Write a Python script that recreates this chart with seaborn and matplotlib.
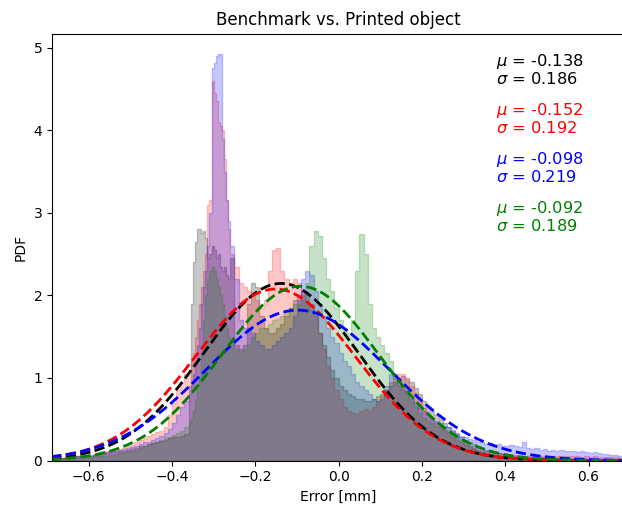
import numpy as np
import pandas as pd
import matplotlib
matplotlib.use("Agg")
import matplotlib.pyplot as plt
from matplotlib.colors import to_rgba
import seaborn as sns

# ---- bin edges (fine bins around the sharp peak) ----
edges_left = np.round(np.arange(-0.69, -0.36 + 1e-9, 0.01), 4)
edges_peak = np.round(np.arange(-0.36, -0.26 + 1e-9, 0.005), 4)
edges_right = np.round(np.arange(-0.26, 0.69 + 1e-9, 0.01), 4)
edges = np.unique(np.concatenate([edges_left, edges_peak, edges_right]))
centers = 0.5 * (edges[:-1] + edges[1:])

# ---- histogram heights (PDF) ----
# Benchmark (black)
black_left = [0.02, 0.02, 0.03, 0.03, 0.04, 0.04, 0.05, 0.05, 0.06, 0.06,
              0.07, 0.07, 0.08, 0.09, 0.10, 0.10, 0.11, 0.12, 0.13, 0.14,
              0.15, 0.17, 0.18, 0.20, 0.21, 0.22, 0.24, 0.25, 0.27, 0.28,
              0.29, 0.30, 0.32]
black_peak = [0.9, 1.9, 2.4, 2.65, 2.8, 2.8, 2.75, 2.78, 2.7, 2.45,
              2.5, 2.6, 2.55, 2.45, 2.5, 2.35, 2.3, 2.35, 2.25, 2.2]
black_right = [2.45, 1.4, 1.35, 1.4, 1.9, 2.15, 2.1, 1.75, 1.6, 1.55,
               1.55, 1.6, 1.65, 1.75, 1.85, 1.95, 2.0, 2.05, 2.0, 1.9,
               1.8, 1.55, 1.4, 1.25, 1.1, 1.0, 0.9, 0.85, 0.8, 0.78,
               0.75, 0.75, 0.72, 0.72, 0.75, 0.78, 0.8, 0.85, 0.9, 0.95,
               1.0, 1.02, 1.0, 0.95, 0.88, 0.8, 0.72, 0.65, 0.6, 0.55,
               0.5, 0.45, 0.4, 0.36, 0.32, 0.28, 0.25, 0.22, 0.2, 0.17,
               0.15, 0.13, 0.11, 0.1, 0.09, 0.08, 0.07, 0.06, 0.05, 0.05,
               0.04, 0.04, 0.04, 0.03, 0.03, 0.03, 0.03, 0.03, 0.02, 0.02,
               0.02, 0.02, 0.02, 0.02, 0.02, 0.02, 0.01, 0.01, 0.01, 0.01,
               0.01, 0.01, 0.01, 0.01, 0.01]

# Printed object 1 (red)
red_left = [0.02, 0.03, 0.03, 0.04, 0.04, 0.05, 0.05, 0.06, 0.07, 0.07,
            0.08, 0.09, 0.10, 0.11, 0.12, 0.13, 0.14, 0.15, 0.17, 0.19,
            0.22, 0.25, 0.27, 0.30, 0.32, 0.34, 0.36, 0.40, 0.55, 0.70,
            0.85, 0.95, 1.05]
red_peak = [1.1, 1.2, 1.3, 1.5, 1.7, 1.9, 2.1, 2.3, 2.5, 3.1,
            3.15, 4.6, 4.45, 4.35, 4.1, 4.05, 4.0, 3.65, 3.15, 2.8]
red_right = [2.5, 2.35, 2.15, 2.1, 2.05, 2.0, 1.95, 1.85, 1.95, 2.3,
             2.55, 2.57, 2.3, 2.2, 2.15, 2.2, 2.15, 2.0, 1.9, 1.82,
             1.75, 1.55, 1.35, 1.15, 1.0, 0.85, 0.75, 0.65, 0.6, 0.57,
             0.56, 0.6, 0.62, 0.6, 0.65, 0.72, 0.78, 0.85, 0.95, 1.02,
             1.05, 1.05, 0.98, 0.9, 0.82, 0.72, 0.64, 0.56, 0.5, 0.45,
             0.4, 0.36, 0.32, 0.28, 0.25, 0.22, 0.19, 0.17, 0.15, 0.13,
             0.12, 0.11, 0.1, 0.09, 0.09, 0.08, 0.08, 0.07, 0.07, 0.07,
             0.06, 0.06, 0.06, 0.06, 0.06, 0.05, 0.05, 0.05, 0.05, 0.05,
             0.05, 0.05, 0.05, 0.05, 0.04, 0.05, 0.04, 0.05, 0.04, 0.04,
             0.04, 0.04, 0.04, 0.03, 0.03]

# Printed object 2 (blue)
blue_left = [0.02, 0.02, 0.03, 0.03, 0.04, 0.04, 0.05, 0.05, 0.06, 0.06,
             0.07, 0.08, 0.09, 0.10, 0.11, 0.12, 0.13, 0.14, 0.15, 0.16,
             0.18, 0.20, 0.22, 0.23, 0.25, 0.27, 0.30, 0.33, 0.38, 0.45,
             0.55, 0.65, 0.72]
blue_peak = [0.8, 0.9, 1.05, 1.2, 1.4, 1.6, 1.9, 2.1, 2.3, 2.6,
             3.0, 4.75, 4.82, 4.9, 4.92, 4.92, 3.9, 3.5, 3.15, 2.9]
blue_right = [2.6, 2.2, 1.7, 1.6, 1.6, 1.55, 1.45, 1.4, 1.35, 1.35,
              1.4, 1.45, 1.5, 1.55, 1.6, 1.75, 1.95, 2.2, 2.3, 2.25,
              2.05, 1.9, 1.75, 1.6, 1.5, 1.42, 1.3, 1.2, 1.15, 1.05,
              0.95, 0.9, 0.85, 0.8, 0.75, 0.72, 0.75, 0.9, 1.05, 1.0,
              0.92, 0.85, 0.8, 0.75, 0.7, 0.64, 0.6, 0.55, 0.52, 0.48,
              0.45, 0.42, 0.4, 0.37, 0.33, 0.3, 0.28, 0.26, 0.25, 0.23,
              0.22, 0.2, 0.21, 0.19, 0.2, 0.18, 0.17, 0.19, 0.17, 0.16,
              0.23, 0.15, 0.14, 0.15, 0.13, 0.14, 0.12, 0.13, 0.12, 0.13,
              0.12, 0.11, 0.12, 0.1, 0.11, 0.1, 0.09, 0.1, 0.09, 0.08,
              0.08, 0.07, 0.07, 0.06, 0.06]

# Printed object 3 (green)
green_left = [0.01, 0.01, 0.02, 0.02, 0.02, 0.03, 0.03, 0.03, 0.04, 0.04,
              0.05, 0.05, 0.06, 0.06, 0.07, 0.08, 0.09, 0.10, 0.11, 0.12,
              0.13, 0.15, 0.17, 0.19, 0.21, 0.23, 0.25, 0.27, 0.29, 0.31,
              0.33, 0.36, 0.40]
green_peak = [0.45, 0.5, 0.6, 0.75, 0.9, 1.0, 1.3, 1.7, 2.0, 2.2,
              2.3, 2.35, 2.3, 2.2, 2.1, 2.0, 1.9, 1.75, 1.6, 1.5]
green_right = [1.45, 1.35, 1.33, 1.35, 1.4, 1.5, 1.55, 1.6, 1.6, 1.65,
               1.7, 1.72, 1.75, 1.8, 1.85, 1.9, 1.9, 1.95, 2.15, 2.6,
               2.78, 2.72, 2.45, 2.2, 2.05, 1.85, 1.7, 1.6, 1.55, 1.7,
               2.3, 2.74, 2.5, 1.9, 1.6, 1.5, 1.4, 1.3, 1.2, 1.05,
               0.95, 0.88, 0.8, 0.72, 0.65, 0.58, 0.52, 0.48, 0.45, 0.42,
               0.4, 0.37, 0.34, 0.3, 0.27, 0.24, 0.2, 0.17, 0.14, 0.12,
               0.1, 0.09, 0.08, 0.07, 0.06, 0.05, 0.05, 0.04, 0.04, 0.03,
               0.03, 0.03, 0.02, 0.02, 0.02, 0.02, 0.02, 0.02, 0.01, 0.01,
               0.01, 0.01, 0.01, 0.01, 0.01, 0.01, 0.01, 0.01, 0.01, 0.01,
               0.01, 0.01, 0.01, 0.01, 0.01]

# ---- fitted normal parameters ----
series_colors = ["k", "r", "b", "g"]
mus = [-0.138, -0.152, -0.098, -0.092]
sigmas = [0.186, 0.192, 0.219, 0.189]

title = "Benchmark vs. Printed object"
xlabel = "Error [mm]"
ylabel = "PDF"

heights = [black_left + black_peak + black_right,
           red_left + red_peak + red_right,
           blue_left + blue_peak + blue_right,
           green_left + green_peak + green_right]

fig = plt.figure(figsize=(6.22, 5.11), dpi=100)
ax = fig.add_axes([0.0836, 0.0988, 0.9215, 0.8352])

bin_list = [float(e) for e in edges]
for h, c in zip(heights, series_colors):
    df = pd.DataFrame({"err": centers, "w": np.array(h, dtype=float)})
    n_before = len(ax.collections)
    sns.histplot(data=df, x="err", weights="w", bins=bin_list, element="step",
                 fill=True, color=c, alpha=0.22, linewidth=1.0, ax=ax)
    for coll in ax.collections[n_before:]:
        coll.set_facecolor(to_rgba(c, 0.22))
        coll.set_edgecolor(to_rgba(c, 0.22))
        coll.set_alpha(None)
    for ln in list(ax.lines):
        pass

xs = np.linspace(-0.69, 0.69, 400)
for mu, sd, c in zip(mus, sigmas, series_colors):
    pdf = np.exp(-(xs - mu) ** 2 / (2 * sd ** 2)) / (sd * np.sqrt(2 * np.pi))
    sns.lineplot(x=xs, y=pdf, color=c, linestyle="--", linewidth=2, ax=ax)

ypos = [0.957, 0.842, 0.727, 0.612]
for mu, sd, c, yp in zip(mus, sigmas, series_colors, ypos):
    ax.text(0.774, yp, f"$\\mu$ = {mu:.3f}\n$\\sigma$ = {sd:.3f}", color=c,
            transform=ax.transAxes, va="top", ha="left", fontsize=11.7,
            linespacing=0.97)

ax.set_xlim(-0.688, 0.688)
ax.set_ylim(0, 5.17)
ax.set_xticks([-0.6, -0.4, -0.2, 0.0, 0.2, 0.4, 0.6])
ax.set_title(title, fontsize=12)
ax.set_xlabel(xlabel)
ax.set_ylabel(ylabel)

fig.savefig("out.png", dpi=100)
